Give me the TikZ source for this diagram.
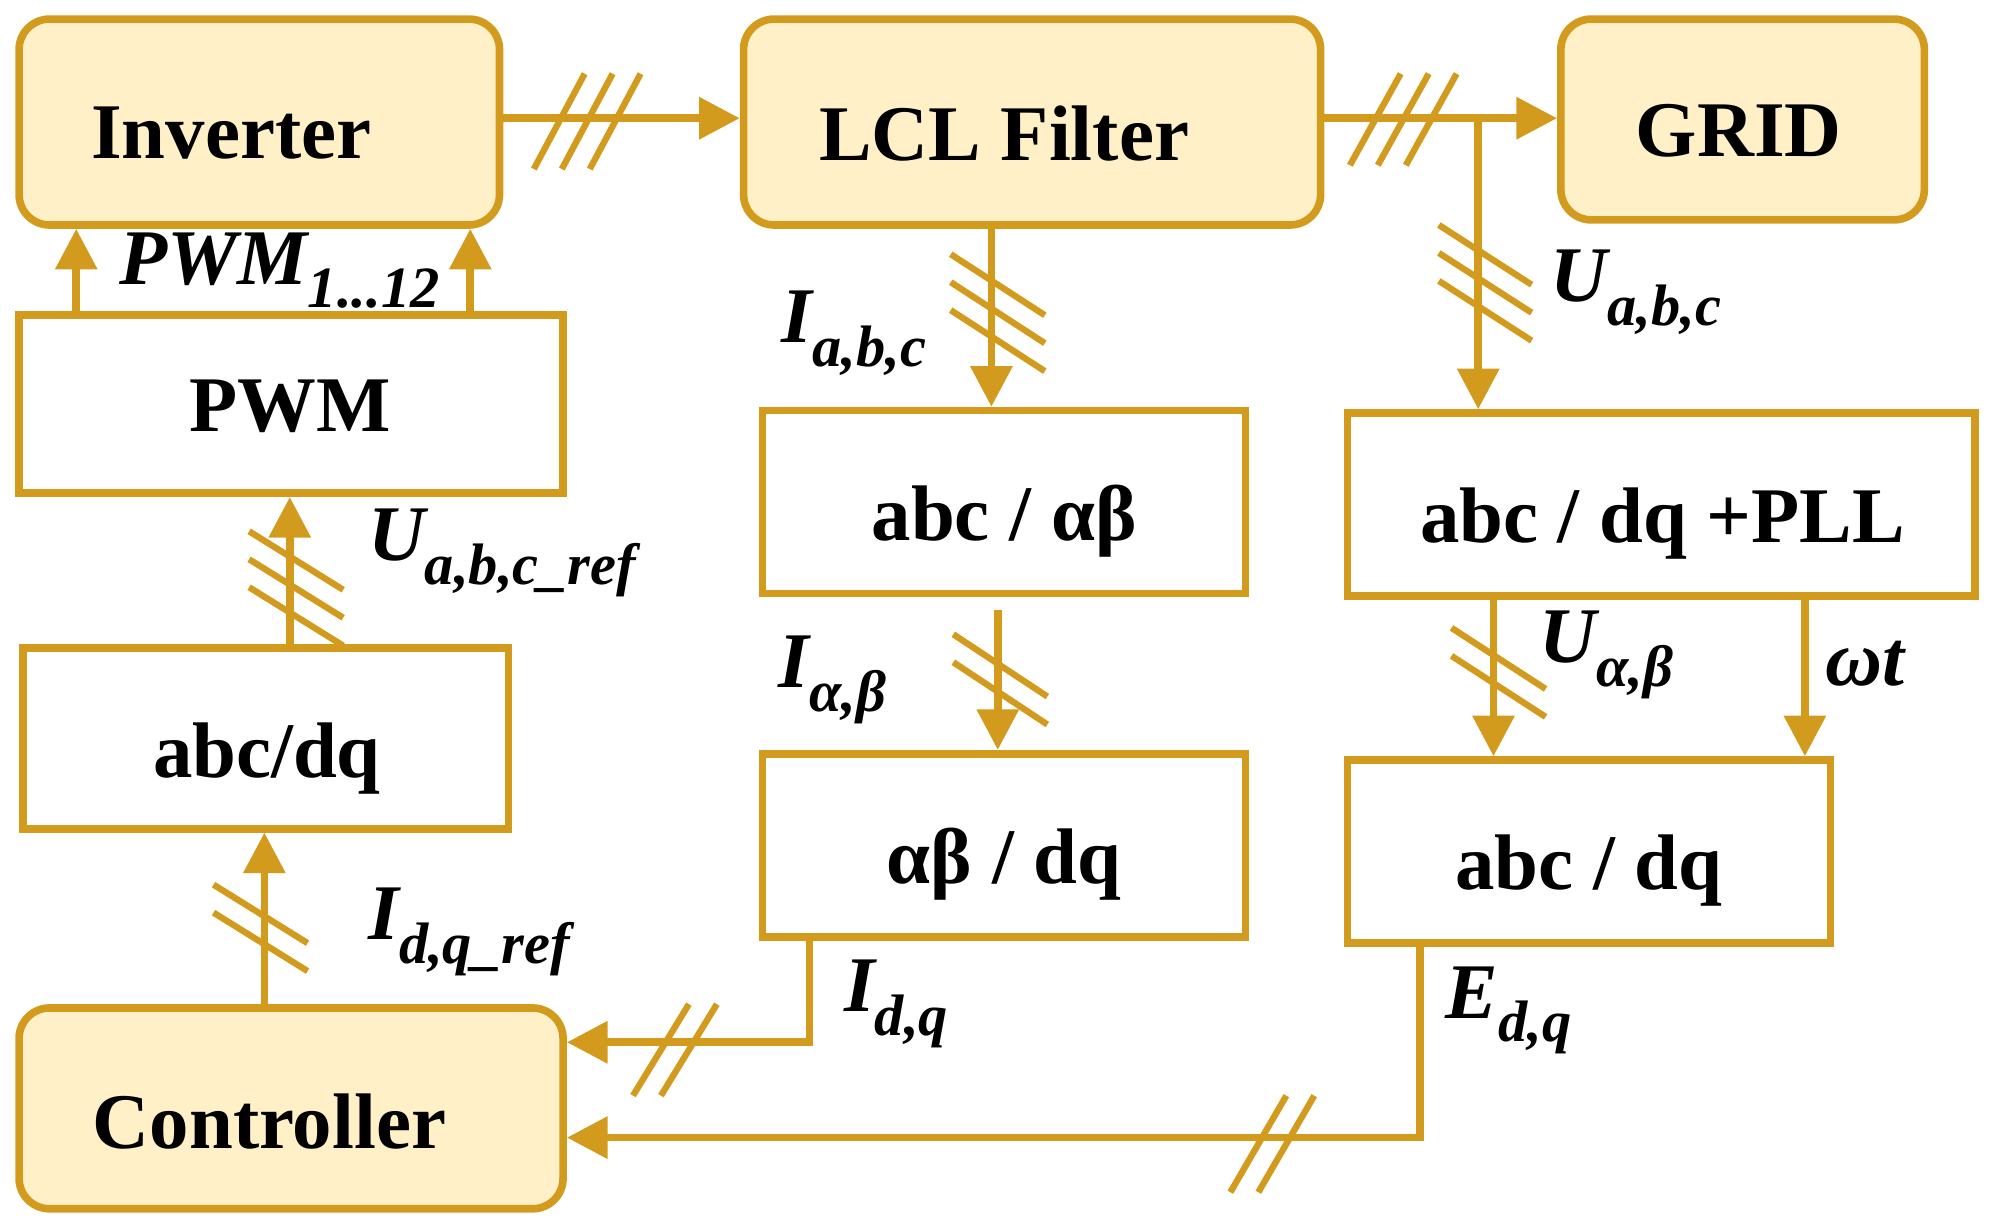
\documentclass[tikz,border=0pt]{standalone}
\usepackage{fontspec}
\setmainfont{Liberation Serif}
\usetikzlibrary{arrows.meta}
\definecolor{ln}{HTML}{D39B1E}
\definecolor{fl}{HTML}{FFF0C8}
\newcommand\lab[2]{{\bfseries\itshape #1\raisebox{-0.3em}{\fontsize{23}{23}\selectfont #2}}}
\begin{document}
\begin{tikzpicture}[x=0.5pt,y=-0.5pt,
  box/.style={draw=ln,line width=3pt,minimum width=#1,inner sep=0pt},
  blk/.style={box=#1,fill=white},
  rbox/.style={box=#1,fill=fl,rounded corners=12pt},
  tx/.style={font=\fontsize{31}{34}\selectfont\bfseries},
  wire/.style={draw=ln,line width=3pt},
  arr/.style={wire,-{Triangle[length=16pt,width=16pt]}},
  sl/.style={draw=ln,line width=2.5pt},
  lb/.style={font=\fontsize{31}{34}\selectfont}]
\useasboundingbox (0,0) rectangle (1568,966);
\node[rbox=189pt,minimum height=81pt] (inv) at (204,96) {};
\node[tx] at (182,105) {Inverter};
\node[rbox=227pt,minimum height=81pt] (lcl) at (812,96) {};
\node[tx] at (790,105) {LCL Filter};
\node[rbox=143pt,minimum height=79pt] (grid) at (1371,94) {};
\node[tx] at (1368,103) {GRID};
\node[blk=214pt,minimum height=70pt] (pwm) at (229,318) {};
\node[tx] at (228,320) {PWM};
\node[blk=191pt,minimum height=71pt] (adq) at (209,581) {};
\node[tx] at (210,597) {abc/dq};
\node[rbox=214pt,minimum height=79pt] (ctl) at (229,872) {};
\node[tx] at (212,882) {Controller};
\node[blk=190pt,minimum height=72pt] (aab) at (790,395) {};
\node[tx] at (790,410) {abc / αβ};
\node[blk=190pt,minimum height=72pt] (abdq) at (790,665) {};
\node[tx] at (790,680) {αβ / dq};
\node[blk=247pt,minimum height=72pt] (pll) at (1307,397) {};
\node[tx] at (1308,412) {abc / dq +PLL};
\node[blk=190pt,minimum height=72pt] (rdq) at (1250,670) {};
\node[tx] at (1250,685) {abc / dq};
% wires
\draw[arr] (inv.east |- 0,93) -- (lcl.west |- 0,93);
\draw[arr] (lcl.east |- 0,93) -- (grid.west |- 0,93);
\coordinate (br) at (1163,93);
\draw[arr] (br) -- (br |- pll.north);
\draw[arr] (lcl.south -| 780,0) -- (aab.north -| 780,0);
\draw[arr] (aab.south -| 785,0) ++(0,10) -- (abdq.north -| 785,0);
\coordinate (c1) at (637,820);
\draw[arr] (abdq.south -| c1) -- (c1) -- (ctl.east |- c1);
\coordinate (c2) at (1117,895);
\draw[arr] (rdq.south -| c2) -- (c2) -- (ctl.east |- c2);
\draw[arr] (pll.south -| 1175,0) -- (rdq.north -| 1175,0);
\draw[arr] (pll.south -| 1420,0) -- (rdq.north -| 1420,0);
\draw[arr] (ctl.north -| 208,0) -- (adq.south -| 208,0);
\draw[arr] (adq.north -| 228,0) -- (pwm.south -| 228,0);
\draw[arr] (pwm.north -| 60,0) -- (inv.south -| 60,0);
\draw[arr] (pwm.north -| 370,0) -- (inv.south -| 370,0);
% slashes horizontal
\foreach \x in {440,462,484} \draw[sl] (\x-20,133) -- (\x+20,58);
\foreach \x in {1082,1104,1126} \draw[sl] (\x-20,130) -- (\x+20,58);
\foreach \x in {520,542} \draw[sl] (\x-22,862) -- (\x+22,790);
\foreach \x in {990,1012} \draw[sl] (\x-22,938) -- (\x+22,862);
% slashes vertical
\foreach \y in {222,244,266} \draw[sl] (1132,\y-45) -- (1205,\y+2);
\foreach \y in {230,252,274} \draw[sl] (748,\y-30) -- (822,\y+18);
\foreach \y in {514,536} \draw[sl] (750,\y-15) -- (824,\y+34);
\foreach \y in {522,544} \draw[sl] (1142,\y-28) -- (1216,\y+20);
\foreach \y in {440,462,484} \draw[sl] (196,\y-22) -- (270,\y+24);
\foreach \y in {720,742} \draw[sl] (168,\y-24) -- (242,\y+22);
% labels
\node[lb] at (220,213) {\lab{PWM}{1...12}};
\node[lb] at (672,262) {\lab{I}{a,b,c}};
\node[lb] at (1287,230) {\lab{U}{a,b,c}};
\node[lb] at (395,435) {\lab{U}{a,b,c\_ref}};
\node[lb] at (655,535) {\lab{I}{α,β}};
\node[lb] at (1264,515) {\lab{U}{α,β}};
\node[lb] at (1467,522) {\bfseries\itshape ωt};
\node[lb] at (369,733) {\lab{I}{d,q\_ref}};
\node[lb] at (705,790) {\lab{I}{d,q}};
\node[lb] at (1187,795) {\lab{E}{d,q}};
\end{tikzpicture}
\end{document}
